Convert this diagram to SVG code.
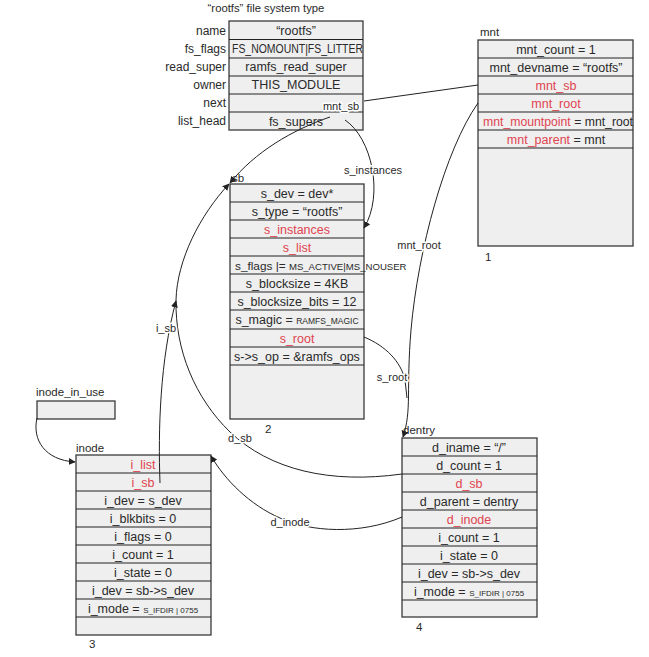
<svg xmlns="http://www.w3.org/2000/svg" width="649" height="657" viewBox="0 0 649 657">
<defs>
<marker id="ah" viewBox="0 0 10 10" refX="9" refY="5" markerWidth="7" markerHeight="7" markerUnits="userSpaceOnUse" orient="auto">
<path d="M0,0 L10,5 L0,10 z" fill="#222"/>
</marker>
</defs>
<style>
text{font-family:"Liberation Sans",Arial,sans-serif;font-size:12.5px;fill:#2a2a2a}
.c{text-anchor:middle}
.r{text-anchor:end;font-size:12px}
.t{font-size:11.5px}
.red{fill:#e04450}
.sm{font-size:8px}
.row{fill:#efefef;stroke:#3a3a3a;stroke-width:1.3}
.ln{fill:none;stroke:#222;stroke-width:1}
.lbl{text-anchor:middle;font-size:11px;stroke:#fff;stroke-width:3px;paint-order:stroke;stroke-linejoin:round}
</style>
<rect width="649" height="657" fill="#fff"/>

<g id="fstype">
<text class="c" x="266" y="12" style="font-size:11.3px">“rootfs” file system type</text>
<rect class="row" x="229" y="21" width="134" height="109"/>
<path class="ln" stroke="#3a3a3a" stroke-width="1.3" d="M229,39.5H363M229,58H363M229,76H363M229,94H363M229,112H363"/>
<text class="r" x="226" y="35">name</text>
<text class="r" x="226" y="53">fs_flags</text>
<text class="r" x="226" y="71">read_super</text>
<text class="r" x="226" y="89">owner</text>
<text class="r" x="226" y="107">next</text>
<text class="r" x="226" y="125">list_head</text>
<text class="c" x="296" y="35">“rootfs”</text>
<text x="232" y="53" textLength="131" lengthAdjust="spacingAndGlyphs">FS_NOMOUNT|FS_LITTER</text>
<text class="c" x="296" y="71">ramfs_read_super</text>
<text class="c" x="296" y="89">THIS_MODULE</text>
<text class="c" x="296" y="126">fs_supers</text>
</g>

<g id="mnt">
<text class="t" x="480" y="36">mnt</text>
<rect class="row" x="478" y="40" width="155" height="206"/>
<path class="ln" stroke="#3a3a3a" stroke-width="1.3" d="M478,58H633M478,76H633M478,94H633M478,112H633M478,130H633M478,148H633"/>
<text class="c" x="556" y="54">mnt_count = 1</text>
<text class="c" x="556" y="72">mnt_devname = “rootfs”</text>
<text class="c red" x="556" y="90">mnt_sb</text>
<text class="c red" x="556" y="108">mnt_root</text>
<text x="483" y="126" textLength="150" lengthAdjust="spacingAndGlyphs"><tspan class="red">mnt_mountpoint</tspan> = mnt_root</text>
<text class="c" x="556" y="144"><tspan class="red">mnt_parent</tspan> = mnt</text>
<text class="t" x="485" y="261">1</text>
</g>

<g id="sb">
<text class="t" x="232" y="182">sb</text>
<rect class="row" x="230" y="184" width="134" height="235"/>
<path class="ln" stroke="#3a3a3a" stroke-width="1.3" d="M230,202H364M230,220H364M230,238H364M230,256H364M230,274H364M230,292H364M230,310H364M230,329H364M230,347H364M230,365H364"/>
<text class="c" x="297" y="198">s_dev = dev*</text>
<text class="c" x="297" y="216">s_type = “rootfs”</text>
<text class="c red" x="297" y="234">s_instances</text>
<text class="c red" x="297" y="252">s_list</text>
<text x="235" y="270" style="font-size:11.8px">s_flags |= <tspan style="font-size:9.6px">MS_ACTIVE|MS_NOUSER</tspan></text>
<text class="c" x="297" y="288">s_blocksize = 4KB</text>
<text class="c" x="297" y="306">s_blocksize_bits = 12</text>
<text class="c" x="297" y="324">s_magic = <tspan style="font-size:8.5px">RAMFS_MAGIC</tspan></text>
<text class="c red" x="297" y="343">s_root</text>
<text class="c" x="297" y="361">s-&gt;s_op = &amp;ramfs_ops</text>
<text class="t" x="265" y="433">2</text>
</g>

<g id="inode_in_use">
<text class="t" x="36" y="396">inode_in_use</text>
<rect class="row" x="37" y="401" width="78" height="18"/>
</g>

<g id="inode">
<text class="t" x="76" y="452">inode</text>
<rect class="row" x="76" y="455" width="135" height="180"/>
<path class="ln" stroke="#3a3a3a" stroke-width="1.3" d="M76,473H211M76,491H211M76,509H211M76,527H211M76,545H211M76,563H211M76,581H211M76,599H211M76,617H211"/>
<text class="c red" x="143" y="469">i_list</text>
<text class="c red" x="143" y="487">i_sb</text>
<text class="c" x="143" y="505">i_dev = s_dev</text>
<text class="c" x="143" y="523">i_blkbits = 0</text>
<text class="c" x="143" y="541">i_flags = 0</text>
<text class="c" x="143" y="559">i_count = 1</text>
<text class="c" x="143" y="577">i_state = 0</text>
<text class="c" x="143" y="595">i_dev = sb-&gt;s_dev</text>
<text class="c" x="143" y="613">i_mode = <tspan class="sm">S_IFDIR | 0755</tspan></text>
<text class="t" x="89" y="648">3</text>
</g>

<g id="dentry">
<text class="t" x="403" y="434">dentry</text>
<rect class="row" x="402" y="438" width="135" height="179"/>
<path class="ln" stroke="#3a3a3a" stroke-width="1.3" d="M402,456H537M402,474H537M402,492H537M402,510H537M402,528H537M402,546H537M402,564H537M402,582H537M402,600H537"/>
<text class="c" x="469" y="452">d_iname = “/”</text>
<text class="c" x="469" y="470">d_count = 1</text>
<text class="c red" x="469" y="488">d_sb</text>
<text class="c" x="469" y="506">d_parent = dentry</text>
<text class="c red" x="469" y="524">d_inode</text>
<text class="c" x="469" y="542">i_count = 1</text>
<text class="c" x="469" y="560">i_state = 0</text>
<text class="c" x="469" y="578">i_dev = sb-&gt;s_dev</text>
<text class="c" x="469" y="596">i_mode = <tspan class="sm">S_IFDIR | 0755</tspan></text>
<text class="t" x="416" y="631">4</text>
</g>

<g id="connectors">
<path class="ln" d="M478,85 L364,101"/>
<path class="ln" d="M330,117 C292,130 255,152 230,183" marker-end="url(#ah)"/>
<path class="ln" d="M345,120 C372,138 384,195 364,228" marker-end="url(#ah)"/>
<path class="ln" d="M478,103 C445,150 418,250 411,330 C406,390 412,410 403,437" marker-end="url(#ah)"/>
<path class="ln" d="M364,337 C386,346 401,362 405,380 L407,398"/>
<path class="ln" d="M402,474 C330,484 270,470 230,432 C195,398 175,350 176,300 C177,260 200,215 229,184" marker-end="url(#ah)"/>
<path class="ln" d="M160,483 C158,430 160,360 176,301" marker-end="url(#ah)"/>
<path class="ln" d="M402,517 C360,535 310,532 280,518 C250,505 225,480 211,456" marker-end="url(#ah)"/>
<path class="ln" d="M37,418 C32,440 45,460 75,462" marker-end="url(#ah)"/>
<text class="lbl" x="341" y="110">mnt_sb</text>
<text class="lbl" x="373" y="174">s_instances</text>
<text class="lbl" x="419" y="249">mnt_root</text>
<text class="lbl" x="392" y="381">s_root</text>
<text class="lbl" x="166" y="332">i_sb</text>
<text class="lbl" x="240" y="442">d_sb</text>
<text class="lbl" x="290" y="526">d_inode</text>
</g>
</svg>
